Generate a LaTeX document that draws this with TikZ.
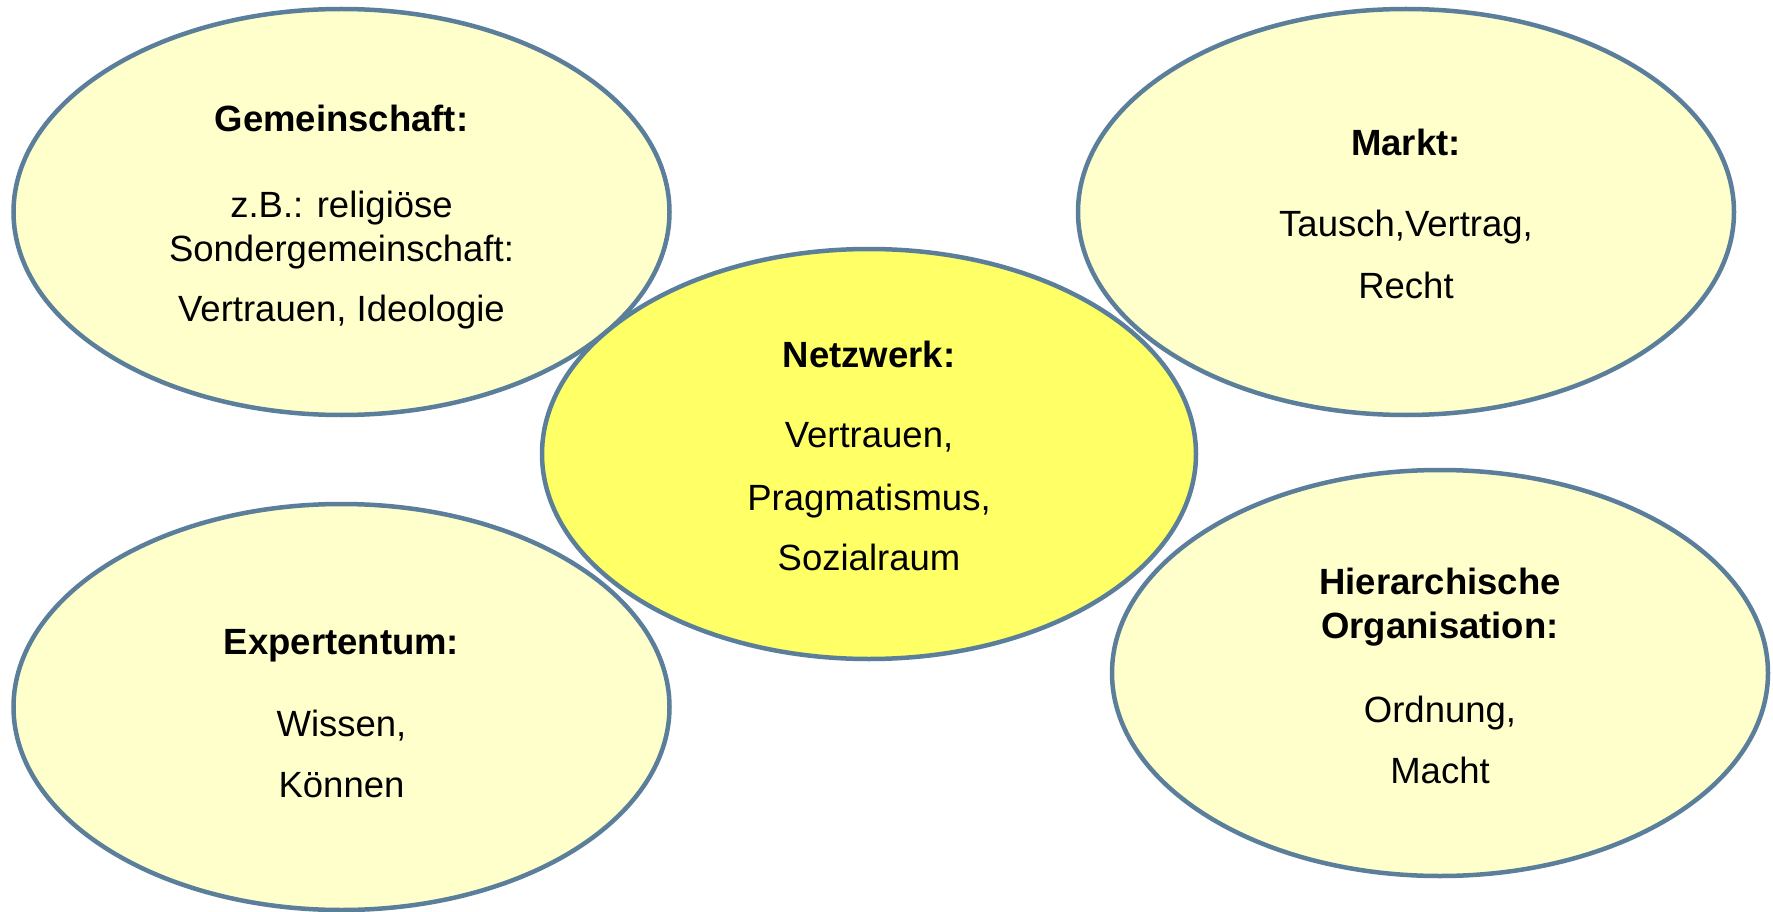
\documentclass[tikz,border=0pt]{standalone}
\usepackage{fontspec}
\setmainfont{Liberation Sans}
\usetikzlibrary{shapes.geometric}
\definecolor{rim}{HTML}{5B7F9A}
\definecolor{pale}{HTML}{FFFFCC}
\definecolor{core}{HTML}{FFFF66}
\tikzset{
  oval/.style={ellipse, draw=rim, line width=4.5pt, fill=pale,
    minimum width=656pt, minimum height=406pt, inner sep=0pt},
  hub/.style={oval, fill=core},
  caption/.style={align=center, inner sep=0pt,
    font=\fontsize{36.5pt}{44pt}\selectfont}
}
\begin{document}
\begin{tikzpicture}[x=1pt,y=-1pt]
\useasboundingbox (0,0) rectangle (1773,912);
\fill[white] (0,0) rectangle (1773,912);

% the four surrounding ellipses
\node[oval] (gemeinschaft) at (341.5,212) {};
\node[oval] (markt) at (1406,212) {};
\node[oval] (experten) at (341.5,707) {};
\node[oval] (hierarchie) at (1440,673) {};
% the central ellipse lies on top
\node[hub, minimum width=654pt, minimum height=410pt] (netzwerk) at (869,454) {};

% texts
\node[caption, yshift=-5pt] (gemtext) at (gemeinschaft) {\textbf{Gemeinschaft:}\\[41.5pt]
  z.B.: religiöse\\ Sondergemeinschaft:\\[16pt] Vertrauen, Ideologie};
\node[caption, yshift=-2pt] (markttext) at (markt) {\textbf{Markt:}\\[37pt]
  Tausch,Vertrag,\\[18pt] Recht};
\node[caption, yshift=-6.5pt] (expertext) at (experten) {\textbf{Expertentum:}\\[38pt]
  Wissen,\\[17pt] Können};
\node[caption, yshift=-2.5pt] (hiertext) at (hierarchie) {\textbf{Hierarchische}\\
  \textbf{Organisation:}\\[40pt] Ordnung,\\[17pt] Macht};
\node[caption, yshift=-2pt] (netztext) at (netzwerk) {\textbf{Netzwerk:}\\[36pt]
  Vertrauen,\\[19pt] Pragmatismus,\\[16pt] Sozialraum};
\end{tikzpicture}
\end{document}
